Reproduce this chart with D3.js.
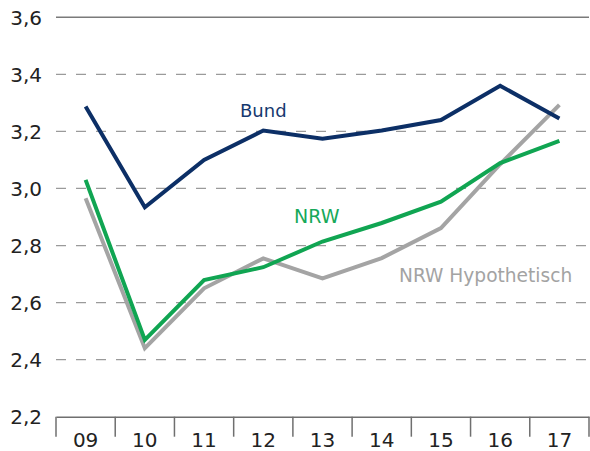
<!DOCTYPE html>
<html>
<head>
<meta charset="utf-8">
<script src="https://cdn.jsdelivr.net/npm/d3@7/dist/d3.min.js"></script>
<style>
html,body{margin:0;padding:0;background:#fff;}
svg{display:block;}
</style>
</head>
<body>
<svg id="chart" width="590" height="451"></svg>
<script>
const categories = ["09","10","11","12","13","14","15","16","17"];
const bund = [3.287, 2.934, 3.10, 3.203, 3.174, 3.203, 3.24, 3.36, 3.245];
const nrw = [3.03, 2.469, 2.679, 2.724, 2.814, 2.879, 2.954, 3.089, 3.167];
const nrwHypo = [2.966, 2.44, 2.65, 2.755, 2.685, 2.756, 2.861, 3.085, 3.293];
const yTicks = [2.2, 2.4, 2.6, 2.8, 3.0, 3.2, 3.4, 3.6];
const seriesNames = ["Bund", "NRW", "NRW Hypothetisch"];

const svg = d3.select("#chart");
const mLeft = 56, mRight = 589, mTop = 17.3, mBottom = 416.7;
const x = d3.scaleBand().domain(categories).range([mLeft, mRight]);
const y = d3.scaleLinear().domain([2.2, 3.6]).range([mBottom, mTop]);
const fmt = v => d3.format(".1f")(v).replace(".", ",");

// gridlines
svg.append("g").selectAll("line").data(yTicks.filter(t => t > 2.2)).join("line")
  .attr("x1", mLeft).attr("x2", mRight)
  .attr("y1", d => y(d)).attr("y2", d => y(d))
  .attr("stroke", d => d === 3.6 ? "#7a7a7a" : "#9a9a9a")
  .attr("stroke-width", d => d === 3.6 ? 1.6 : 1.3)
  .attr("stroke-dasharray", d => d === 3.6 ? null : "10,10");

// y labels
svg.append("g").selectAll("text").data(yTicks).join("text")
  .attr("x", 42).attr("y", d => y(d)).attr("dy", "0.36em")
  .attr("text-anchor", "end")
  .attr("font-family", "DejaVu Sans, sans-serif").attr("font-size", 20)
  .attr("fill", "#222")
  .text(fmt);

// x axis
const xAxis = d3.axisBottom(x).tickSize(0).tickFormat(d => d);
const gx = svg.append("g").attr("transform", `translate(0,${mBottom})`).call(xAxis);
gx.select(".domain").attr("stroke", "#6f6f6f").attr("stroke-width", 1.5);
gx.selectAll("text").attr("font-family", "DejaVu Sans, sans-serif").attr("font-size", 20)
  .attr("fill", "#222").attr("dy", 0).attr("y", 30.5);
// boundary ticks
const bounds = categories.map(c => x(c)).concat([x(categories[categories.length-1]) + x.bandwidth()]);
svg.append("g").selectAll("line").data(bounds).join("line")
  .attr("x1", d => d).attr("x2", d => d)
  .attr("y1", mBottom).attr("y2", mBottom + 20)
  .attr("stroke", "#6f6f6f").attr("stroke-width", 1.5);

const cx = c => x(c) + x.bandwidth() / 2;
const line = d3.line().x((d, i) => cx(categories[i])).y(d => y(d));

const series = [
  {name: seriesNames[2], values: nrwHypo, color: "#a4a4a4"},
  {name: seriesNames[1], values: nrw, color: "#10a552"},
  {name: seriesNames[0], values: bund, color: "#0c2f66"}
];
svg.append("g").selectAll("path").data(series).join("path")
  .attr("d", d => line(d.values))
  .attr("fill", "none").attr("stroke", d => d.color)
  .attr("stroke-width", 4).attr("stroke-linejoin", "miter").attr("stroke-linecap", "butt");

// labels
const labels = [
  {text: seriesNames[0], x: 240, y: 116.5, color: "#16396f", size: 18},
  {text: seriesNames[1], x: 294, y: 223.3, color: "#17a95a", size: 19},
  {text: seriesNames[2], x: 399, y: 281.7, color: "#a3a3a3", size: 18.6}
];
svg.append("g").selectAll("text").data(labels).join("text")
  .attr("x", d => d.x).attr("y", d => d.y)
  .attr("font-family", "DejaVu Sans, sans-serif").attr("font-size", d => d.size)
  .attr("fill", d => d.color).text(d => d.text);
</script>
</body>
</html>
